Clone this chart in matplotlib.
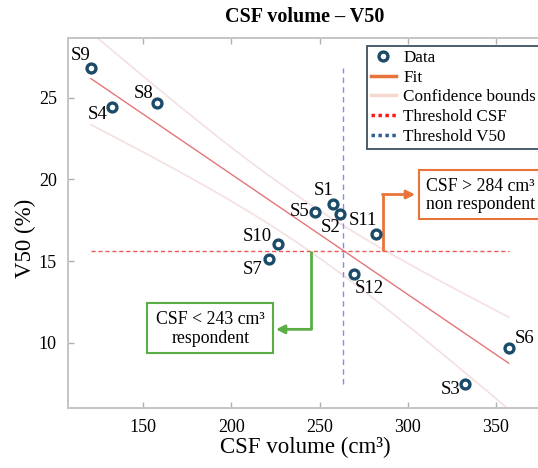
import numpy as np
import matplotlib
matplotlib.use("Agg")
import matplotlib.pyplot as plt
from matplotlib.lines import Line2D
from matplotlib.patches import Rectangle

# ---------------- data ----------------
subjects = ["S1", "S2", "S3", "S4", "S5", "S6", "S7", "S8", "S9", "S10", "S11", "S12"]
csf_volume = [257.4, 261.7, 332.6, 132.4, 247.4, 357.2, 221.3, 157.6, 120.3, 226.6, 282.1, 269.3]
v50 = [18.5, 17.9, 7.47, 24.45, 17.98, 9.69, 15.12, 24.66, 26.86, 16.02, 16.65, 14.19]
threshold_csf = 263.0   # vertical line (cm3)
threshold_v50 = 15.6    # horizontal line (%)
t_crit = 2.228          # Student t, 95 %, df = 10
x_ticks = [150, 200, 250, 300, 350]
y_ticks = [10, 15, 20, 25]
title = "CSF volume \u2013 V50"
xlabel = "CSF volume (cm\u00b3)"
ylabel = "V50 (%)"
note_high = "CSF > 284 cm\u00b3\nnon respondent"
note_low = "CSF < 243 cm\u00b3\nrespondent"

# ---------------- style ----------------
plt.rcParams["font.family"] = ["Liberation Serif", "DejaVu Serif"]
W, H = 538, 468
fig = plt.figure(figsize=(W / 100, H / 100), dpi=100)

def fx(px):
    return px / W

def fy(py):
    return 1 - py / H

ax = fig.add_axes([fx(68), fy(408), fx(538) - fx(68), fy(37.5) - fy(408)])
ax.set_xlim(107.3, 373.8)
ax.set_ylim(6.0, 28.7)

x = np.array(csf_volume)
y = np.array(v50)

# fit and confidence bounds
slope, intercept = np.polyfit(x, y, 1)
xs = np.linspace(x.min(), x.max(), 200)
ys = slope * xs + intercept
resid = y - (slope * x + intercept)
s = np.sqrt(np.sum(resid ** 2) / (len(x) - 2))
sxx = np.sum((x - x.mean()) ** 2)
half = t_crit * s * np.sqrt(1 / len(x) + (xs - x.mean()) ** 2 / sxx)

band_color = "#f4e0e0"
ax.plot(xs, ys + half, color=band_color, lw=1.2, zorder=1)
ax.plot(xs, ys - half, color=band_color, lw=1.2, zorder=1)
ax.plot(xs, ys, color="#e47676", lw=1.0, zorder=2)

ax.plot([x.min(), x.max()], [threshold_v50, threshold_v50], color="#ea5a5a",
        lw=1.0, ls=(0, (3, 2)), zorder=2)
ax.plot([threshold_csf, threshold_csf], [y.min(), y.max()], color="#8a8aee",
        lw=1.0, ls=(0, (4, 3)), zorder=2)

ax.plot(x, y, ls="none", marker="o", ms=6.4, mfc="white", mec="#1b4b68",
        mew=2.4, zorder=5)

label_offsets = {
    "S1": (-9, 13), "S2": (-10, -14), "S3": (-15, -5), "S4": (-15, -7.5),
    "S5": (-15, 0.5), "S6": (16, 9.4), "S7": (-16, -10), "S8": (-13, 9.6),
    "S9": (-10, 12), "S10": (-21, 7.6), "S11": (-13.5, 13.3), "S12": (15.5, -14.4),
}
for name, xi, yi in zip(subjects, x, y):
    dx, dy = label_offsets[name]
    ax.annotate(name, (xi, yi), xytext=(dx, dy), textcoords="offset pixels",
                ha="center", va="center", fontsize=13.5, color="black", zorder=6)

# arrows
orange = "#e8743b"
green = "#5aae45"
ax.plot([286.1, 286.1], [threshold_v50, 19.08], color=orange, lw=2.0,
        solid_capstyle="butt", zorder=4)
ax.annotate("", xy=(304.1, 19.08), xytext=(285.6, 19.08),
            arrowprops=dict(arrowstyle="-|>,head_length=0.5,head_width=0.25",
                            color=orange, lw=2.0, shrinkA=0, shrinkB=0), zorder=4)
ax.plot([244.9, 244.9], [threshold_v50, 10.82], color=green, lw=2.0,
        solid_capstyle="butt", zorder=4)
ax.annotate("", xy=(225.2, 10.82), xytext=(245.4, 10.82),
            arrowprops=dict(arrowstyle="-|>,head_length=0.5,head_width=0.25",
                            color=green, lw=2.0, shrinkA=0, shrinkB=0), zorder=4)

# axes styling
for side in ["left", "bottom", "top"]:
    ax.spines[side].set_color("#c4c4c4")
    ax.spines[side].set_linewidth(1.4)
ax.spines["right"].set_visible(False)
ax.set_xticks(x_ticks)
ax.set_yticks(y_ticks)
ax.tick_params(direction="in", length=4, width=1, color="#b0b0b0",
               labelsize=13, top=True, pad=8)
ax.set_xlabel(xlabel, fontsize=16.5, va="center")
ax.xaxis.set_label_coords((305.5 - 68) / 470, -(447 - 408) / 370.5)
ax.set_ylabel(ylabel, fontsize=16.5, va="center")
ax.yaxis.set_label_coords((25 - 68) / 470, (408 - 238) / 370.5)

fig.text(fx(305), fy(17.5), title, ha="center", va="center",
         fontsize=14.5, fontweight="bold")

# note boxes
fig.patches.append(Rectangle((fx(419.3), fy(219.3)), fx(538 - 419.3 + 4), (219.3 - 170) / H,
                             transform=fig.transFigure, fc="white", ec=orange,
                             lw=1.5, zorder=10))
fig.text(fx(426), fy(195.5), note_high, ha="left", va="center", fontsize=12.8,
         linespacing=1.15, zorder=11)
fig.patches.append(Rectangle((fx(147.3), fy(353.3)), fx(273.3 - 147.3), (353.3 - 303.3) / H,
                             transform=fig.transFigure, fc="white", ec=green,
                             lw=1.5, zorder=10))
fig.text(fx(210.3), fy(328.8), note_low, ha="center", va="center", fontsize=12.8,
         linespacing=1.15, zorder=11)

# legend
handles = [
    Line2D([], [], ls="none", marker="o", ms=6.4, mfc="white", mec="#1b4b68", mew=2.4),
    Line2D([], [], color=orange, lw=2.5),
    Line2D([], [], color="#f6d9cc", lw=2.5),
    Line2D([], [], color="#ff1a1a", lw=2.5, ls=(0, (1, 1))),
    Line2D([], [], color="#2c5f9c", lw=2.5, ls=(0, (1, 1))),
]
labels = ["Data", "Fit", "Confidence bounds", "Threshold CSF", "Threshold V50"]
leg = fig.legend(handles, labels, loc="upper left",
                 bbox_to_anchor=(fx(366.7), fy(45.5)), bbox_transform=fig.transFigure,
                 fontsize=12.3, frameon=True, fancybox=False, borderaxespad=0,
                 handlelength=1.45, handletextpad=0.45, labelspacing=0.22,
                 borderpad=0.25)
leg.get_frame().set_edgecolor("#1b3548")
leg.get_frame().set_linewidth(1.4)
leg.set_zorder(12)

fig.savefig("out.png", dpi=100)
